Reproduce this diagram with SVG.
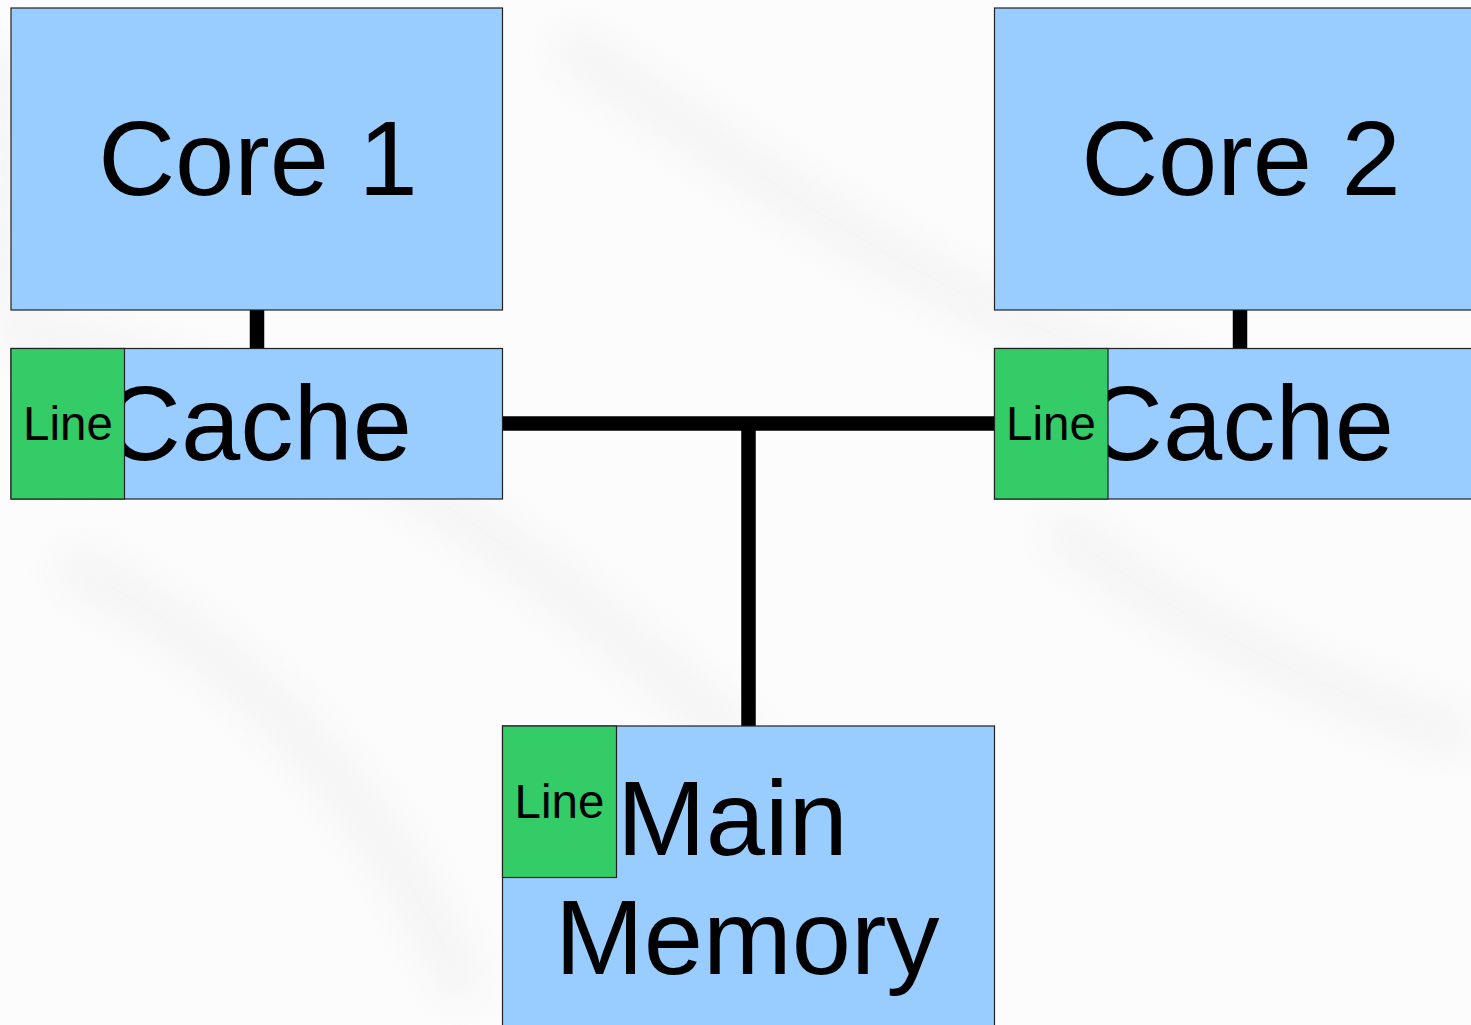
<svg xmlns="http://www.w3.org/2000/svg" width="1471" height="1025" viewBox="0 0 1471 1025">
  <style>
    .box { fill: #99ccff; stroke: #222; stroke-width: 1.2; }
    .tag { fill: #33cc66; stroke: #222; stroke-width: 1.2; }
    .big { font-family: "Liberation Sans", Arial, sans-serif; font-size: 106.5px; fill: #000; }
    .small { font-family: "Liberation Sans", Arial, sans-serif; font-size: 47.5px; fill: #000; text-anchor: middle; }
    .wire { stroke: #000; stroke-width: 14.5; fill: none; }
  </style>
  <defs>
    <filter id="soft" x="-20%" y="-20%" width="140%" height="140%">
      <feGaussianBlur stdDeviation="22"/>
    </filter>
  </defs>

  <!-- paper background with faint streaks -->
  <rect x="0" y="0" width="1471" height="1025" fill="#fcfcfc"/>
  <g filter="url(#soft)" fill="none" stroke="#f0f0f0" stroke-width="45" opacity="0.7">
    <path d="M0 330 C 300 380, 500 520, 760 760"/>
    <path d="M60 560 C 250 650, 380 800, 470 1000"/>
    <path d="M560 40 C 800 200, 950 320, 1200 380"/>
    <path d="M1050 520 C 1200 640, 1350 700, 1471 740"/>
    <path d="M0 50 C 20 150, 10 230, 0 300"/>
  </g>

  <!-- connectors -->
  <g id="connectors">
    <line class="wire" x1="257" y1="310" x2="257" y2="349"/>
    <line class="wire" x1="1240" y1="310" x2="1240" y2="349"/>
    <line class="wire" x1="502" y1="423.5" x2="995" y2="423.5"/>
    <line class="wire" x1="748.5" y1="423.5" x2="748.5" y2="727"/>
  </g>

  <g id="core1">
    <rect class="box" x="11" y="8" width="491.5" height="302"/>
    <text class="big" x="258" y="195" text-anchor="middle">Core 1</text>
  </g>

  <g id="core2">
    <rect class="box" x="994.5" y="8" width="491.5" height="302"/>
    <text class="big" x="1241" y="195" text-anchor="middle">Core 2</text>
  </g>

  <g id="cache1">
    <rect class="box" x="11" y="348.5" width="491.5" height="150.5"/>
    <text class="big" x="258" y="460" text-anchor="middle">Cache</text>
    <rect class="tag" x="11" y="348.5" width="113.5" height="150.5"/>
    <text class="small" x="68" y="440">Line</text>
  </g>

  <g id="cache2">
    <rect class="box" x="994.5" y="348.5" width="491.5" height="150.5"/>
    <text class="big" x="1240" y="460" text-anchor="middle">Cache</text>
    <rect class="tag" x="994.5" y="348.5" width="113.5" height="150.5"/>
    <text class="small" x="1051" y="440">Line</text>
  </g>

  <g id="main-memory">
    <rect class="box" x="502.5" y="726" width="492" height="310"/>
    <text class="big" x="617" y="855">Main</text>
    <text class="big" x="555" y="974">Memory</text>
    <rect class="tag" x="502.5" y="726" width="114" height="151.5"/>
    <text class="small" x="559.5" y="818">Line</text>
  </g>
</svg>
